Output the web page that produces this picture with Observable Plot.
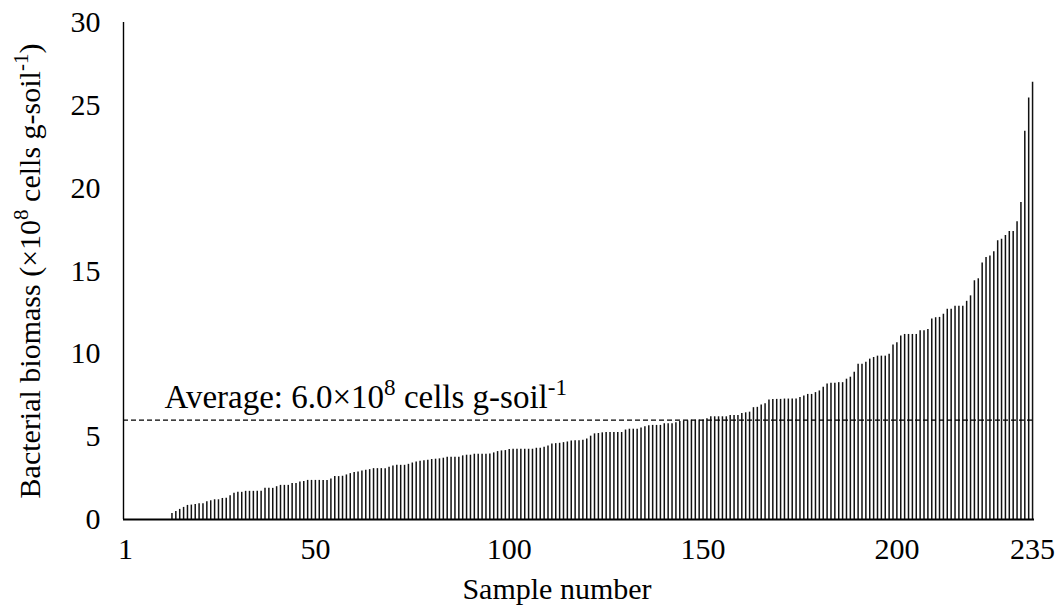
<!DOCTYPE html>
<html>
<head>
<meta charset="utf-8">
<script src="https://cdn.jsdelivr.net/npm/d3@7"></script>
<script src="https://cdn.jsdelivr.net/npm/@observablehq/plot@0.6"></script>
<style>
  html, body { margin: 0; padding: 0; background: #fff; }
  #chart svg { display: block; }
</style>
</head>
<body>
<div id="chart"></div>
<script>
// Bacterial biomass per sample (×10^8 cells g-soil^-1), sorted ascending, samples 1..235
const biomass = [
  0, 0, 0, 0, 0, 0, 0, 0, 0, 0, 0, 0,
  0.36, 0.48, 0.61, 0.73, 0.85, 0.87, 0.91, 0.95, 0.95, 1.07,
  1.13, 1.19, 1.19, 1.27, 1.29, 1.43, 1.58, 1.64, 1.64, 1.70,
  1.70, 1.70, 1.70, 1.70, 1.88, 1.88, 1.88, 1.98, 2.06, 2.06,
  2.06, 2.18, 2.18, 2.26, 2.30, 2.36, 2.36, 2.36, 2.36, 2.36,
  2.36, 2.45, 2.59, 2.59, 2.61, 2.69, 2.77, 2.83, 2.87, 2.93,
  2.97, 3.01, 3.07, 3.07, 3.07, 3.07, 3.15, 3.23, 3.27, 3.27,
  3.27, 3.33, 3.41, 3.47, 3.51, 3.55, 3.58, 3.62, 3.64, 3.66,
  3.70, 3.76, 3.76, 3.76, 3.76, 3.84, 3.88, 3.88, 3.94, 3.94,
  3.94, 3.94, 3.96, 4.02, 4.10, 4.14, 4.16, 4.22, 4.24, 4.24,
  4.24, 4.24, 4.24, 4.24, 4.30, 4.30, 4.36, 4.44, 4.56, 4.58,
  4.60, 4.64, 4.68, 4.74, 4.76, 4.76, 4.78, 4.86, 5.03, 5.17,
  5.19, 5.23, 5.25, 5.25, 5.25, 5.25, 5.25, 5.40, 5.45, 5.45,
  5.45, 5.53, 5.60, 5.66, 5.68, 5.68, 5.68, 5.78, 5.78, 5.78,
  5.84, 5.92, 5.94, 5.96, 6.00, 6.00, 6.00, 6.00, 6.08, 6.20,
  6.20, 6.20, 6.20, 6.20, 6.28, 6.28, 6.28, 6.40, 6.44, 6.48,
  6.75, 6.77, 6.91, 6.99, 7.21, 7.25, 7.25, 7.25, 7.27, 7.27,
  7.27, 7.27, 7.37, 7.45, 7.55, 7.55, 7.66, 7.76, 7.98, 8.18,
  8.22, 8.22, 8.26, 8.26, 8.47, 8.59, 8.89, 9.37, 9.37, 9.49,
  9.68, 9.78, 9.86, 9.86, 9.86, 9.98, 10.53, 10.67, 11.07, 11.17,
  11.17, 11.17, 11.17, 11.39, 11.39, 11.47, 12.10, 12.18, 12.20, 12.39,
  12.69, 12.69, 12.87, 12.87, 12.87, 13.17, 13.50, 14.41, 14.53, 15.49,
  15.82, 15.90, 16.16, 16.83, 16.91, 17.15, 17.39, 17.39, 17.98, 19.13,
  23.43, 25.45, 26.40
];
const sampleTicks = [1, 50, 100, 150, 200, 235];
const biomassTicks = [0, 5, 10, 15, 20, 25, 30];
const averageBiomass = 6.0;
const xTitle = "Sample number";
const yTitleParts = [["Bacterial biomass (\u00d710", false], ["8", true], [" cells g-soil", false], ["-1", true], [")", false]];
const avgParts = [["Average: 6.0\u00d710", false], ["8", true], [" cells g-soil", false], ["-1", true]];

const plain = parts => parts.map(p => p[0]).join("");
const samples = biomass.map((v, i) => ({sample: i + 1, value: v}));

const FONT = '"Liberation Serif", "Times New Roman", Times, serif';

const chart = Plot.plot({
  width: 1057,
  height: 612,
  marginLeft: 123,
  marginRight: 23,
  marginTop: 22,
  marginBottom: 93,
  style: {fontFamily: FONT, fontSize: "30px", color: "#000", background: "#fff", overflow: "visible"},
  x: {type: "linear", domain: [0.5, 235.5], ticks: sampleTicks, tickSize: 0, tickPadding: 18, tickFormat: d => String(d), label: null},
  y: {domain: [0, 30], ticks: biomassTicks, tickSize: 0, tickPadding: 23, tickFormat: d => String(d), label: null},
  marks: [
    Plot.ruleX(samples, {x: "sample", y1: 0, y2: "value", stroke: "#111", strokeWidth: 1.5}),
    Plot.ruleY([averageBiomass], {stroke: "#000", strokeWidth: 1.3, strokeDasharray: "5,3"}),
    Plot.ruleX([0.5], {y1: 0, y2: 30, stroke: "#000", strokeWidth: 1.4}),
    Plot.ruleY([0], {stroke: "#000", strokeWidth: 1.8}),
    Plot.text([plain(avgParts)], {y: [averageBiomass], frameAnchor: "left", textAnchor: "start", lineAnchor: "middle", dx: 41, dy: -23, fontSize: 33, fill: "#000"}),
    Plot.text([xTitle], {frameAnchor: "bottom", textAnchor: "middle", lineAnchor: "middle", dx: -22, dy: 70, fill: "#000"}),
    Plot.text([plain(yTitleParts)], {frameAnchor: "left", textAnchor: "middle", rotate: -90, lineAnchor: "middle", dx: -93, fill: "#000"})
  ]
});

function richify(svg, parts) {
  const target = plain(parts);
  svg.querySelectorAll("text").forEach(t => {
    if (t.textContent === target) {
      while (t.firstChild) t.removeChild(t.firstChild);
      parts.forEach(([s, sup]) => {
        const ts = document.createElementNS("http://www.w3.org/2000/svg", "tspan");
        ts.textContent = s;
        if (sup) {
          ts.setAttribute("baseline-shift", "super");
          ts.setAttribute("font-size", "0.7em");
        }
        t.appendChild(ts);
      });
    }
  });
}
richify(chart, avgParts);
richify(chart, yTitleParts);

document.getElementById("chart").appendChild(chart);
</script>
</body>
</html>
